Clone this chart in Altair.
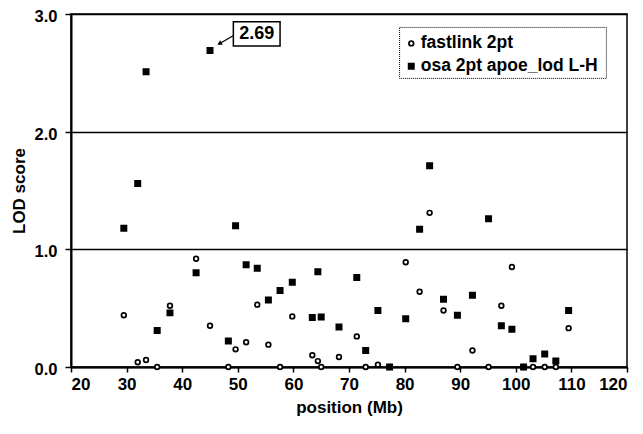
import altair as alt
import pandas as pd

series_names = ["fastlink 2pt", "osa 2pt apoe_lod L-H"]
positions = [29.5, 32.0, 33.5, 35.5, 37.8, 42.5, 45.0, 48.3, 49.6, 51.5, 53.5, 55.5,
             57.6, 59.8, 63.4, 64.4, 65.0, 68.2, 71.4, 73.0, 75.2, 77.3, 80.2, 82.7,
             84.5, 87.0, 89.5, 92.2, 95.1, 97.4, 99.3, 101.4, 103.1, 105.2, 107.2, 109.5]
fastlink = [0.44, 0.04, 0.06, 0.00, 0.52, 0.92, 0.35, 0.00, 0.15, 0.21, 0.53, 0.19,
            0.00, 0.43, 0.10, 0.05, 0.00, 0.085, 0.26, 0.00, 0.02, 0.00, 0.89, 0.64,
            1.31, 0.48, 0.00, 0.14, 0.00, 0.52, 0.85, 0.00, 0.00, 0.00, 0.00, 0.33]
osa = [1.18, 1.56, 2.51, 0.31, 0.46, 0.80, 2.69, 0.22, 1.20, 0.87, 0.84, 0.57,
       0.65, 0.72, 0.42, 0.81, 0.425, 0.34, 0.76, 0.14, 0.48, 0.00, 0.41, 1.17,
       1.71, 0.575, 0.44, 0.61, 1.26, 0.35, 0.32, 0.00, 0.07, 0.11, 0.05, 0.48]
x_ticks = [20, 30, 40, 50, 60, 70, 80, 90, 100, 110, 120]
y_ticks = [0, 1, 2, 3]
peak_label = "2.69"

rows = []
for p, v in zip(positions, fastlink):
    rows.append({"position": p, "lod": v, "series": series_names[0]})
for p, v in zip(positions, osa):
    rows.append({"position": p, "lod": v, "series": series_names[1]})
df = pd.DataFrame(rows)

FONT = "Liberation Sans"
FS = 17
xscale = alt.Scale(domain=[20, 120], nice=False, zero=False)
yscale = alt.Scale(domain=[0, 3], nice=False)
shape_scale = alt.Scale(domain=series_names, range=["circle", "square"])
fill_scale = alt.Scale(domain=series_names, range=["white", "black"])
size_scale = alt.Scale(domain=series_names, range=[22, 28])

points = alt.Chart(df).mark_point(filled=False, strokeWidth=1.7, opacity=1, stroke="black").encode(
    x=alt.X("position:Q", scale=xscale,
            axis=alt.Axis(values=x_ticks, title="position (Mb)", grid=False, format="d",
                          titlePadding=7, labelPadding=4)),
    y=alt.Y("lod:Q", scale=yscale,
            axis=alt.Axis(values=y_ticks, format=".1f", title="LOD score", grid=True,
                          gridColor="black", gridWidth=1.5, gridOpacity=1,
                          titlePadding=6, labelPadding=8, tickSize=6, labelOffset=2.5,
                          labelFontSize=16.5)),
    shape=alt.Shape("series:N", scale=shape_scale, legend=None),
    fill=alt.Fill("series:N", scale=fill_scale, legend=None),
    size=alt.Size("series:N", scale=size_scale, legend=None),
)

# legend (drawn as annotation in data space)
leg_box_df = pd.DataFrame([{"x": 79.1, "x2": 116.3, "y": 2.453, "y2": 2.886}])
leg_box = alt.Chart(leg_box_df).mark_rect(fill="white", stroke="black", strokeWidth=1,
                                          strokeDash=[1, 1]).encode(
    x=alt.X("x:Q", scale=xscale), x2="x2:Q", y=alt.Y("y:Q", scale=yscale), y2="y2:Q")
leg_df = pd.DataFrame({"series": series_names, "sx": [81.2, 81.2], "tx": [82.9, 82.9],
                       "y": [2.75, 2.555]})
leg_sym = alt.Chart(leg_df).mark_point(filled=False, strokeWidth=1.7, opacity=1, stroke="black").encode(
    x=alt.X("sx:Q", scale=xscale), y=alt.Y("y:Q", scale=yscale),
    shape=alt.Shape("series:N", scale=shape_scale, legend=None),
    fill=alt.Fill("series:N", scale=fill_scale, legend=None),
    size=alt.Size("series:N", scale=size_scale, legend=None),
)
leg_txt = alt.Chart(leg_df).mark_text(font=FONT, fontSize=17.5, fontWeight="bold", color="black",
                                      align="left", baseline="middle").encode(
    x=alt.X("tx:Q", scale=xscale), y=alt.Y("y:Q", scale=yscale), text="series:N")

box_df = pd.DataFrame([{"x": 49.2, "x2": 57.6, "y": 2.727, "y2": 2.934, "xc": 53.4, "yc": 2.83, "t": peak_label}])
box = alt.Chart(box_df).mark_rect(fill="white", stroke="black", strokeWidth=1.5).encode(
    x=alt.X("x:Q", scale=xscale), x2="x2:Q", y=alt.Y("y:Q", scale=yscale), y2="y2:Q")
box_text = alt.Chart(box_df).mark_text(font=FONT, fontSize=18, fontWeight="bold", color="black",
                                       baseline="middle", align="center").encode(
    x=alt.X("xc:Q", scale=xscale), y=alt.Y("yc:Q", scale=yscale), text="t:N")

arrow_df = pd.DataFrame([{"x": 49.16, "y": 2.815, "x2": 46.6, "y2": 2.745}])
arrow = alt.Chart(arrow_df).mark_rule(color="black", strokeWidth=1.3).encode(
    x=alt.X("x:Q", scale=xscale), y=alt.Y("y:Q", scale=yscale), x2="x2:Q", y2="y2:Q")
head_df = pd.DataFrame([{"x": 46.7, "y": 2.748}])
head = alt.Chart(head_df).mark_point(shape="triangle-up", filled=True, color="black", size=28,
                                     angle=241, opacity=1).encode(
    x=alt.X("x:Q", scale=xscale), y=alt.Y("y:Q", scale=yscale))

chart = alt.layer(points, arrow, head, box, box_text, leg_box, leg_sym, leg_txt).properties(
    width=556, height=353,
    autosize=alt.AutoSizeParams(type="none"),
    padding={"left": 63, "top": 6, "right": 8, "bottom": 55},
).configure_view(stroke="black", strokeWidth=1.5).configure_axis(
    domainColor="black", domainWidth=2, tickColor="black", tickWidth=1.5, tickSize=5,
    labelFont=FONT, labelFontSize=FS, labelFontWeight="bold", labelColor="black",
    titleFont=FONT, titleFontSize=FS, titleFontWeight="bold", titleColor="black",
)

chart.save("out.html", embed_options={"renderer": "svg", "actions": False})
